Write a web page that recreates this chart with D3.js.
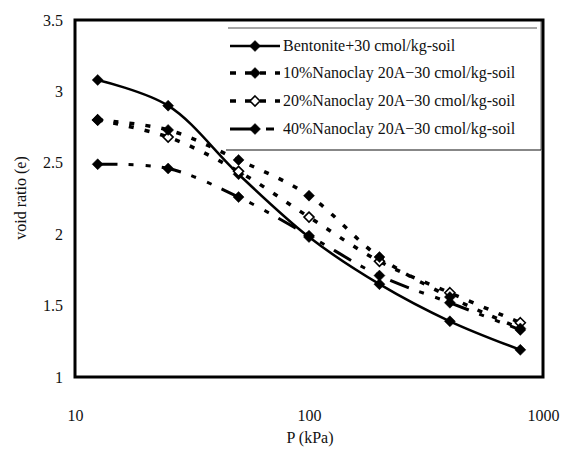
<!DOCTYPE html>
<html><head><meta charset="utf-8">
<script src="https://cdn.jsdelivr.net/npm/d3@7"></script>
<style>body{margin:0;background:#fff}svg{display:block}</style>
</head><body>
<svg id="c" width="562" height="450"></svg>
<script>
const pressure = [12.5, 25, 50, 100, 200, 400, 800];
const bentonite = [3.08, 2.90, 2.42, 1.98, 1.65, 1.39, 1.19];
const nano10 = [2.80, 2.73, 2.52, 2.27, 1.84, 1.56, 1.34];
const nano20 = [2.80, 2.68, 2.44, 2.12, 1.81, 1.59, 1.38];
const nano40 = [2.49, 2.46, 2.26, 1.99, 1.71, 1.52, 1.33];
const seriesNames = ["Bentonite+30 cmol/kg-soil", "10%Nanoclay 20A−30 cmol/kg-soil", "20%Nanoclay 20A−30 cmol/kg-soil", "40%Nanoclay 20A−30 cmol/kg-soil"];
const xTicks = [10, 100, 1000];
const yTicks = [1, 1.5, 2, 2.5, 3, 3.5];

const FONT = "'Liberation Serif', 'Times New Roman', Times, serif";
const series = [
  {name: seriesNames[0], vals: bentonite, dash: null, legDash: null, open: false, w: 2.5},
  {name: seriesNames[1], vals: nano10, dash: "5,11", legDash: "6,9", open: false, w: 3.5},
  {name: seriesNames[2], vals: nano20, dash: "5,11", legDash: "6,9", open: true, w: 3.5},
  {name: seriesNames[3], vals: nano40, dash: "20,11,5,12,5,11", legDash: "22,14,8,20", open: false, w: 3}
];
const markerOrder = [0, 2, 1, 3];

const svg = d3.select("#c");
const L = 75, R = 543, T = 20, B = 377;
const x = d3.scaleLog().domain([10, 1000]).range([L, R]);
const y = d3.scaleLinear().domain([1, 3.5]).range([B, T]);

const xa = svg.append("g").attr("transform", `translate(0,${B})`)
  .call(d3.axisBottom(x).tickValues(xTicks).tickFormat(d3.format("d")).tickSize(0).tickPadding(33));
xa.select(".domain").remove();
xa.attr("font-family", FONT);
xa.selectAll("text").style("font-family", FONT).style("font-size", "16px").attr("fill", "#111");
const ya = svg.append("g").attr("transform", `translate(${L},0)`)
  .call(d3.axisLeft(y).tickValues(yTicks).tickFormat(d => d).tickSize(0).tickPadding(12));
ya.select(".domain").remove();
ya.attr("font-family", FONT);
ya.selectAll("text").style("font-family", FONT).style("font-size", "16px").attr("fill", "#111");

svg.append("text").attr("x", 310).attr("y", 443).attr("text-anchor", "middle")
  .style("font-family", FONT).style("font-size", "16px").attr("fill", "#111").text("P (kPa)");
svg.append("text").attr("transform", "translate(26,198) rotate(-90)").attr("text-anchor", "middle")
  .style("font-family", FONT).style("font-size", "16px").attr("fill", "#111").text("void ratio (e)");

const line = d3.line().x((d, i) => x(pressure[i])).y(d => y(d)).curve(d3.curveCatmullRom.alpha(0.5));
const diamondPath = r => `M0,${-r}L${r},0L0,${r}L${-r},0Z`;

series.forEach(s => {
  svg.append("path").attr("d", line(s.vals)).attr("fill", "none").attr("stroke", "#000")
    .attr("stroke-width", s.w).attr("stroke-dasharray", s.dash);
});
markerOrder.forEach(k => {
  const s = series[k];
  svg.append("g").selectAll("path").data(s.vals).join("path")
    .attr("transform", (d, i) => `translate(${x(pressure[i])},${y(d)})`)
    .attr("d", diamondPath(s.open ? 5 : 5.5))
    .attr("fill", s.open ? "#fff" : "#000").attr("stroke", "#000").attr("stroke-width", s.open ? 1.6 : 0.5);
});

// legend
const lg = svg.append("g");
lg.append("rect").attr("x", 226).attr("y", 28).attr("width", 315).attr("height", 122).attr("fill", "#fff");
lg.append("line").attr("x1", 228).attr("x2", 537).attr("y1", 28).attr("y2", 28).attr("stroke", "#888").attr("stroke-width", 1.5);
lg.append("line").attr("x1", 541).attr("x2", 541).attr("y1", 20).attr("y2", 150).attr("stroke", "#999").attr("stroke-width", 1.5);
lg.append("line").attr("x1", 226).attr("x2", 541).attr("y1", 150).attr("y2", 150).attr("stroke", "#111").attr("stroke-width", 1.2);
const ly = [46, 73, 101, 129];
series.forEach((s, i) => {
  lg.append("line").attr("x1", 230).attr("x2", 280).attr("y1", ly[i]).attr("y2", ly[i])
    .attr("stroke", "#000").attr("stroke-width", s.w).attr("stroke-dasharray", s.legDash);
  lg.append("path").attr("transform", `translate(255,${ly[i]})`)
    .attr("d", diamondPath(s.open ? 5 : 5.5))
    .attr("fill", s.open ? "#fff" : "#000").attr("stroke", "#000").attr("stroke-width", s.open ? 1.6 : 0.5);
  lg.append("text").attr("x", 283).attr("y", ly[i] + 5)
    .style("font-family", FONT).style("font-size", "16px").attr("fill", "#111").text(s.name);
});

svg.append("rect").attr("x", L).attr("y", T).attr("width", R - L).attr("height", B - T)
  .attr("fill", "none").attr("stroke", "#000").attr("stroke-width", 3);
</script>
</body></html>
